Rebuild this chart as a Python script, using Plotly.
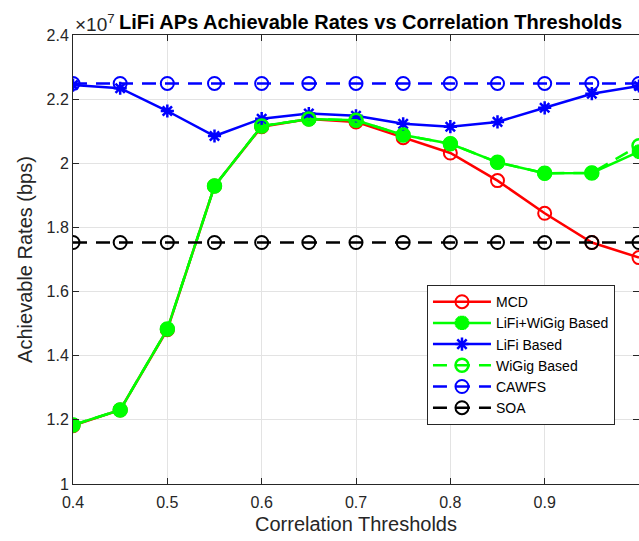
import plotly.graph_objects as go

# Correlation thresholds and achievable rates (in units of 1e7 bps)
thresholds = [0.4, 0.45, 0.5, 0.55, 0.6, 0.65, 0.7, 0.75, 0.8, 0.85, 0.9, 0.95, 1.0]
mcd = [1.182, 1.231, 1.481, 1.929, 2.114, 2.138, 2.129, 2.080, 2.032, 1.946, 1.844, 1.753, 1.706]
lifi_wigig = [1.184, 1.231, 1.483, 1.929, 2.116, 2.138, 2.134, 2.088, 2.061, 2.003, 1.969, 1.970, 2.036]
lifi = [2.244, 2.234, 2.163, 2.085, 2.139, 2.155, 2.148, 2.123, 2.114, 2.129, 2.173, 2.217, 2.241]
wigig = [1.184, 1.231, 1.483, 1.929, 2.116, 2.138, 2.134, 2.088, 2.061, 2.003, 1.969, 1.970, 2.055]
cawfs = [2.249] * len(thresholds)
soa = [1.753] * len(thresholds)

y_ticks = [1, 1.2, 1.4, 1.6, 1.8, 2, 2.2, 2.4]
y_tick_text = ["1", "1.2", "1.4", "1.6", "1.8", "2", "2.2", "2.4"]
x_ticks = [0.4, 0.5, 0.6, 0.7, 0.8, 0.9, 1.0]
x_tick_text = ["0.4", "0.5", "0.6", "0.7", "0.8", "0.9", "1"]

RED = "#ff0000"
GREEN = "#00ff00"
BLUE = "#0000ff"
BLACK = "#000000"
AXIS = "#262626"
DASH = "14px,9px"
FONT = "Liberation Sans, Arial, sans-serif"

fig = go.Figure()

fig.add_trace(go.Scatter(
    x=thresholds, y=mcd, name="MCD", mode="lines+markers",
    line=dict(color=RED, width=2.5),
    marker=dict(symbol="circle-open", size=13, color=RED, line=dict(width=2, color=RED)),
))
fig.add_trace(go.Scatter(
    x=thresholds, y=lifi_wigig, name="LiFi+WiGig Based", mode="lines+markers",
    line=dict(color=GREEN, width=2.5),
    marker=dict(symbol="asterisk-open", size=12, color=GREEN, line=dict(width=5, color=GREEN)),
))
fig.add_trace(go.Scatter(
    x=thresholds, y=lifi, name="LiFi Based", mode="lines+markers",
    line=dict(color=BLUE, width=2.5),
    marker=dict(symbol="asterisk-open", size=11, color=BLUE, line=dict(width=2.5, color=BLUE)),
))
fig.add_trace(go.Scatter(
    x=thresholds, y=wigig, name="WiGig Based", mode="lines+markers",
    line=dict(color=GREEN, width=2.5, dash=DASH),
    marker=dict(symbol="circle-open", size=13, color=GREEN, line=dict(width=2.5, color=GREEN)),
))
fig.add_trace(go.Scatter(
    x=thresholds, y=cawfs, name="CAWFS", mode="lines+markers",
    line=dict(color=BLUE, width=2.5, dash=DASH),
    marker=dict(symbol="circle-open", size=13, color=BLUE, line=dict(width=2, color=BLUE)),
))
fig.add_trace(go.Scatter(
    x=thresholds, y=soa, name="SOA", mode="lines+markers",
    line=dict(color=BLACK, width=2.5, dash=DASH),
    marker=dict(symbol="circle-open", size=13, color=BLACK, line=dict(width=2, color=BLACK)),
))

axis_common = dict(
    showgrid=True, gridcolor="#e3e3e3", gridwidth=1,
    showline=True, linecolor=AXIS, linewidth=1, mirror="ticks",
    ticks="inside", ticklen=6, tickcolor=AXIS, tickwidth=1,
    tickfont=dict(family=FONT, size=16, color=AXIS),
    zeroline=False,
)

fig.update_layout(
    width=639, height=541,
    margin=dict(l=73, r=0, t=35, b=57),
    paper_bgcolor="white", plot_bgcolor="white",
    font=dict(family=FONT, color=AXIS),
    xaxis=dict(
        range=[0.4, 1.0], tickvals=x_ticks, ticktext=x_tick_text,
        ticklabelstandoff=4,
        title=dict(text="Correlation Thresholds", font=dict(size=20, color=AXIS), standoff=6),
        **axis_common,
    ),
    yaxis=dict(
        range=[1, 2.4], tickvals=y_ticks, ticktext=y_tick_text,
        title=dict(text="Achievable Rates (bps)", font=dict(size=20, color=AXIS), standoff=8),
        **axis_common,
    ),
    legend=dict(
        x=0.6254, y=0.443, xanchor="left", yanchor="top",
        bgcolor="white", bordercolor=AXIS, borderwidth=1,
        font=dict(family=FONT, size=14, color="#000000"),
        itemwidth=58, tracegroupgap=0,
    ),
    showlegend=True,
)

# Exponent marker and bold title above the axes
fig.add_annotation(
    xref="paper", yref="paper", x=0, y=1, xanchor="left", yanchor="bottom",
    text="×10<sup>7</sup>", showarrow=False, yshift=-2,
    font=dict(family=FONT, size=19, color=AXIS),
)
fig.add_annotation(
    xref="paper", yref="paper", x=0.525, y=1, xanchor="center", yanchor="bottom",
    text="<b>LiFi APs Achievable Rates vs Correlation Thresholds</b>", showarrow=False,
    yshift=0, font=dict(family=FONT, size=20, color="#000000"),
)

fig.write_html("out.html")
